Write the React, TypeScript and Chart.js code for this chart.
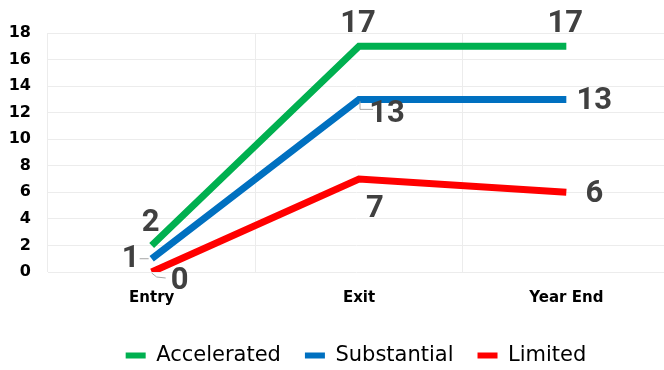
import React, { useEffect, useRef } from "react";
import { Chart, registerables } from "chart.js";

Chart.register(...registerables);

const categories = ["Entry", "Exit", "Year End"];
const accelerated = [2, 17, 17];
const substantial = [1, 13, 13];
const limited = [0, 7, 6];
const yTicks = [0, 2, 4, 6, 8, 10, 12, 14, 16, 18];

// label placement per point (style, not data)
const accPos = ["top", "top", "top"];
const subPos = ["left", "belowRight", "right"];
const limPos = ["lowRight", "below", "right"];

const FONT = "'DejaVu Sans', sans-serif";
const LABEL_FONT = "Roboto, 'DejaVu Sans', sans-serif";

const posOffset: Record<string, [number, number]> = {
  top: [-1, -23],
  left: [-21, 0],
  right: [28, 1],
  below: [16, 29],
  belowRight: [28, 14],
  lowRight: [28, 8],
};

const extendRight = {
  id: "extendRight",
  afterLayout(chart: any) {
    const s = chart.scales.x;
    s.right += 6;
    s.width += 6;
    s.configure();
    chart.chartArea.right += 6;
    chart.chartArea.width += 6;
  },
};

const labelPlugin = {
  id: "pointLabels",
  afterDatasetsDraw(chart: any) {
    const ctx = chart.ctx;
    ctx.save();
    chart.data.datasets.forEach((ds: any, di: number) => {
      const meta = chart.getDatasetMeta(di);
      meta.data.forEach((pt: any, i: number) => {
        const pos = ds.labelPos[i];
        const [dx, dy] = posOffset[pos];
        const x = pt.x + dx;
        const y = pt.y + dy;
        ctx.strokeStyle = "#a6a6a6";
        ctx.lineWidth = 1;
        if (pos === "left") {
          ctx.beginPath();
          ctx.moveTo(pt.x - 3, pt.y);
          ctx.lineTo(x + 9, pt.y);
          ctx.stroke();
        } else if (pos === "belowRight") {
          ctx.beginPath();
          ctx.moveTo(pt.x + 1, pt.y + 2);
          ctx.lineTo(pt.x + 1, pt.y + 10);
          ctx.lineTo(x - 14, pt.y + 10);
          ctx.stroke();
        } else if (pos === "lowRight") {
          ctx.beginPath();
          ctx.moveTo(pt.x, pt.y + 1);
          ctx.lineTo(pt.x + 5, pt.y + 5);
          ctx.lineTo(x - 14, pt.y + 6);
          ctx.stroke();
        }
        ctx.fillStyle = "#404040";
        ctx.font = `bold 31px ${LABEL_FONT}`;
        ctx.textAlign = "center";
        ctx.textBaseline = "middle";
        ctx.fillText(String(ds.data[i]), x, y + 1);
      });
    });
    ctx.restore();
  },
};

export default function App() {
  const ref = useRef<HTMLCanvasElement>(null);
  useEffect(() => {
    document.body.style.margin = "0";
    const mk = (label: string, data: number[], color: string, labelPos: string[]) => ({
      label,
      data,
      borderColor: color,
      backgroundColor: color,
      borderWidth: 7,
      pointRadius: 0,
      borderCapStyle: "butt",
      tension: 0,
      labelPos,
    });
    const chart = new Chart(ref.current!, {
      type: "line",
      data: {
        labels: categories,
        datasets: [
          mk("Accelerated", accelerated, "#00B050", accPos),
          mk("Substantial", substantial, "#0070C0", subPos),
          mk("Limited", limited, "#FF0000", limPos),
        ] as any,
      },
      plugins: [extendRight, labelPlugin],
      options: {
        animation: false,
        responsive: false,
        layout: { padding: { top: 33, right: 0, left: 0, bottom: -6 } },
        plugins: {
          tooltip: { enabled: false },
          legend: {
            position: "bottom",
            fullSize: false,
            labels: {
              boxWidth: 20,
              boxHeight: 6,
              color: "#000",
              padding: 24,
              font: { family: FONT, size: 21 },
              generateLabels: (c: any) => {
                const items = Chart.defaults.plugins.legend.labels.generateLabels(c);
                items.forEach((it: any) => { it.lineWidth = 0; });
                return items;
              },
            },
          },
        },
        scales: {
          x: {
            offset: true,
            grid: { offset: true, color: "#ececec", drawTicks: false },
            border: { display: false },
            ticks: { color: "#000", padding: 17, font: { family: FONT, size: 15, weight: "bold" } },
            afterFit: (s: any) => { s.height = 49; },
          },
          y: {
            min: 0,
            max: 18,
            afterBuildTicks: (s: any) => { s.ticks = yTicks.map((v) => ({ value: v })); },
            grid: { color: "#ececec", drawTicks: false },
            border: { display: false },
            ticks: { color: "#000", padding: 17, font: { family: FONT, size: 16, weight: "bold" } },
            afterFit: (s: any) => { s.width = 48; },
          },
        },
      } as any,
    });
    return () => chart.destroy();
  }, []);
  return <canvas ref={ref} width={664} height={370} />;
}
